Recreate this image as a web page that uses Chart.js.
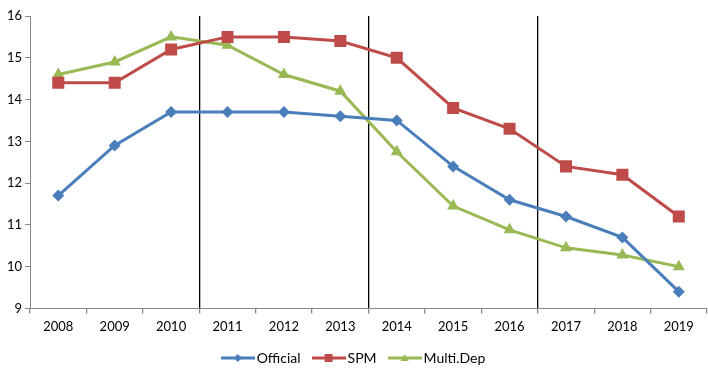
<!DOCTYPE html>
<html>
<head>
<meta charset="utf-8">
<script src="https://cdn.jsdelivr.net/npm/chart.js@4"></script>
<style>
  html, body { margin: 0; padding: 0; background: #fff; }
  #wrap { width: 708px; height: 368px; }
</style>
</head>
<body>
<div id="wrap"><canvas id="chart"></canvas></div>
<script>
const years = ["2008", "2009", "2010", "2011", "2012", "2013", "2014", "2015", "2016", "2017", "2018", "2019"];
const official = [11.7, 12.9, 13.7, 13.7, 13.7, 13.6, 13.5, 12.4, 11.6, 11.2, 10.7, 9.4];
const spm = [14.4, 14.4, 15.2, 15.5, 15.5, 15.4, 15.0, 13.8, 13.3, 12.4, 12.2, 11.2];
const multiDep = [14.6, 14.9, 15.5, 15.3, 14.6, 14.2, 12.75, 11.45, 10.88, 10.45, 10.28, 10.0];
const dividers = [3, 6, 9]; // grid lines between 2010|2011, 2013|2014, 2016|2017

const seriesNames = ["Official", "SPM", "Multi.Dep"];
const seriesColors = ["#4A7EBB", "#BE4B48", "#98B954"];
const seriesMarkers = ["rectRot", "rect", "triangle"];
const markerSizes = [6, 8.5, 7];

// legend swatch: short line with a small marker in the middle
function legendIcon(color, marker) {
  const c = document.createElement("canvas");
  c.width = 34; c.height = 12;
  const g = c.getContext("2d");
  g.strokeStyle = color; g.fillStyle = color; g.lineWidth = 3;
  g.beginPath(); g.moveTo(0, 6); g.lineTo(34, 6); g.stroke();
  g.beginPath();
  if (marker === "rectRot") {
    g.moveTo(17, 2); g.lineTo(21, 6); g.lineTo(17, 10); g.lineTo(13, 6);
  } else if (marker === "rect") {
    g.rect(13, 2, 8, 8);
  } else {
    g.moveTo(17, 2); g.lineTo(21, 9); g.lineTo(13, 9);
  }
  g.closePath(); g.fill();
  return c;
}

const allData = [official, spm, multiDep];
const datasets = seriesNames.map((name, i) => ({
  label: name,
  data: allData[i],
  borderColor: seriesColors[i],
  backgroundColor: seriesColors[i],
  borderWidth: 3,
  pointStyle: seriesMarkers[i],
  pointRadius: markerSizes[i],
  pointHoverRadius: markerSizes[i],
  pointBorderWidth: 0,
  tension: 0
}));

new Chart(document.getElementById("chart"), {
  type: "line",
  data: { labels: years, datasets: datasets },
  options: {
    responsive: true,
    maintainAspectRatio: false,
    animation: false,
    layout: { autoPadding: false, padding: { top: 16, right: 1, left: 4, bottom: -7 } },
    plugins: {
      tooltip: { enabled: false },
      legend: {
        position: "bottom",
        labels: {
          font: { family: "Lato", size: 14 },
          color: "#000",
          usePointStyle: true,
          pointStyleWidth: 24,
          padding: 16,
          generateLabels: function (chart) {
            return chart.data.datasets.map((ds, i) => ({
              text: ds.label,
              pointStyle: legendIcon(seriesColors[i], seriesMarkers[i]),
              fillStyle: seriesColors[i],
              strokeStyle: seriesColors[i],
              lineWidth: 0,
              datasetIndex: i
            }));
          }
        }
      }
    },
    scales: {
      x: {
        offset: true,
        afterFit: function (scale) { scale.height -= 6; },
        grid: {
          offset: true,
          drawOnChartArea: true,
          color: ctx => dividers.includes(ctx.index) ? "#000" : "rgba(0,0,0,0)",
          tickColor: "#888",
          tickLength: 5,
          lineWidth: 1.3
        },
        border: { color: "#888", width: 1 },
        ticks: { font: { family: "Lato", size: 13 }, color: "#000", padding: 6 }
      },
      y: {
        min: 9,
        max: 16,
        ticks: { stepSize: 1, font: { family: "Lato", size: 13 }, color: "#000", padding: 3 },
        grid: { drawOnChartArea: false, tickLength: 5, tickColor: "#888" },
        border: { color: "#888", width: 1 }
      }
    }
  }
});
</script>
</body>
</html>
